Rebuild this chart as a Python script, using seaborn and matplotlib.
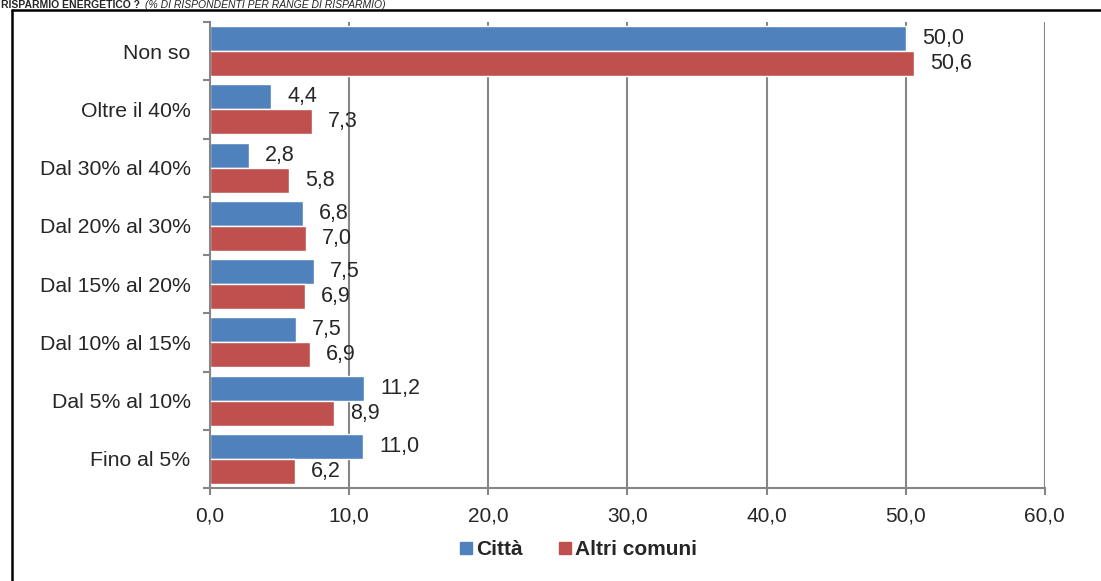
import pandas as pd
import numpy as np
import seaborn as sns
import matplotlib.pyplot as plt
from matplotlib.lines import Line2D
from matplotlib.ticker import FixedLocator

# Categories (top to bottom) and values
categorie = ['Non so', 'Oltre il 40%', 'Dal 30% al 40%', 'Dal 20% al 30%',
             'Dal 15% al 20%', 'Dal 10% al 15%', 'Dal 5% al 10%', 'Fino al 5%']
citta = [50.0, 4.4, 2.8, 6.7, 7.5, 6.2, 11.1, 11.0]
altri = [50.6, 7.3, 5.7, 6.9, 6.85, 7.2, 8.9, 6.1]
# data labels as printed in the original
citta_lab = ['50,0', '4,4', '2,8', '6,8', '7,5', '7,5', '11,2', '11,0']
altri_lab = ['50,6', '7,3', '5,8', '7,0', '6,9', '6,9', '8,9', '6,2']
serie = ['Città', 'Altri comuni']
x_ticks = [0, 10, 20, 30, 40, 50, 60]
x_ticklabels = ['0,0', '10,0', '20,0', '30,0', '40,0', '50,0', '60,0']

df = pd.DataFrame({
    'Categoria': categorie * 2,
    'Valore': citta + altri,
    'Serie': [serie[0]] * len(categorie) + [serie[1]] * len(categorie),
})

sns.set_style('white')
plt.rcParams['font.family'] = ['Liberation Sans', 'DejaVu Sans']

palette = {'Città': '#4F81BD', 'Altri comuni': '#C0504D'}
grid_col = '#868686'

fig = plt.figure(figsize=(11.01, 5.81), dpi=100)
ax = fig.add_axes([0.1907, 0.160, 0.7583, 0.802])

sns.barplot(data=df, x='Valore', y='Categoria', hue='Serie', orient='h',
            order=categorie, hue_order=serie, palette=palette,
            width=0.86, saturation=1, ax=ax, legend=False, zorder=2)

for cont, labs in zip(ax.containers, [citta_lab, altri_lab]):
    ax.bar_label(cont, labels=labs, padding=11.5, fontsize=15.5)

ax.set_xlim(0, 60)
ax.set_ylim(len(categorie) - 0.5, -0.5)
ax.set_xticks(x_ticks)
ax.set_xticklabels(x_ticklabels, fontsize=15)
ax.set_xlabel('')
ax.set_ylabel('')
ax.tick_params(axis='y', which='major', length=0, pad=14, labelsize=15.3)
ax.yaxis.set_minor_locator(FixedLocator(np.arange(-0.5, len(categorie), 1.0)))
ax.tick_params(axis='y', which='minor', length=5, width=1.5, color=grid_col, direction='out', left=True)
ax.tick_params(axis='x', length=5, width=1.5, color=grid_col, direction='out', bottom=True, pad=8)

ax.set_axisbelow(True)
ax.xaxis.grid(True, color=grid_col, linewidth=1.5)
for s in ['top', 'right']:
    ax.spines[s].set_visible(False)
for s in ['left', 'bottom']:
    ax.spines[s].set_color(grid_col)
    ax.spines[s].set_linewidth(1.5)

handles = [Line2D([], [], marker='s', linestyle='', markersize=8,
                  markerfacecolor=palette[s], markeredgecolor=palette[s]) for s in serie]
fig.legend(handles, serie, loc='center', bbox_to_anchor=(0.5254, 0.0534), ncol=2,
           frameon=False, prop={'weight': 'bold', 'size': 15},
           handlelength=0.6, handletextpad=0.2, columnspacing=1.7)

# outer frame (only left and top visible in the crop)
fig.add_artist(Line2D([0.0105, 0.0105], [0, 1 - 10 / 581], color='black', lw=1.8))
fig.add_artist(Line2D([0.0105, 1], [1 - 10 / 581, 1 - 10 / 581], color='black', lw=1.8))

# title squeezed above the frame
fig.text(0.001, 1 - 7.5 / 581, 'RISPARMIO ENERGETICO ?', fontsize=7.5,
         fontweight='bold', va='baseline', ha='left')
fig.text(0.132, 1 - 7.5 / 581, '(% DI RISPONDENTI PER RANGE DI RISPARMIO)',
         fontsize=7.5, style='italic', va='baseline', ha='left')

fig.savefig('out.png', dpi=100)
